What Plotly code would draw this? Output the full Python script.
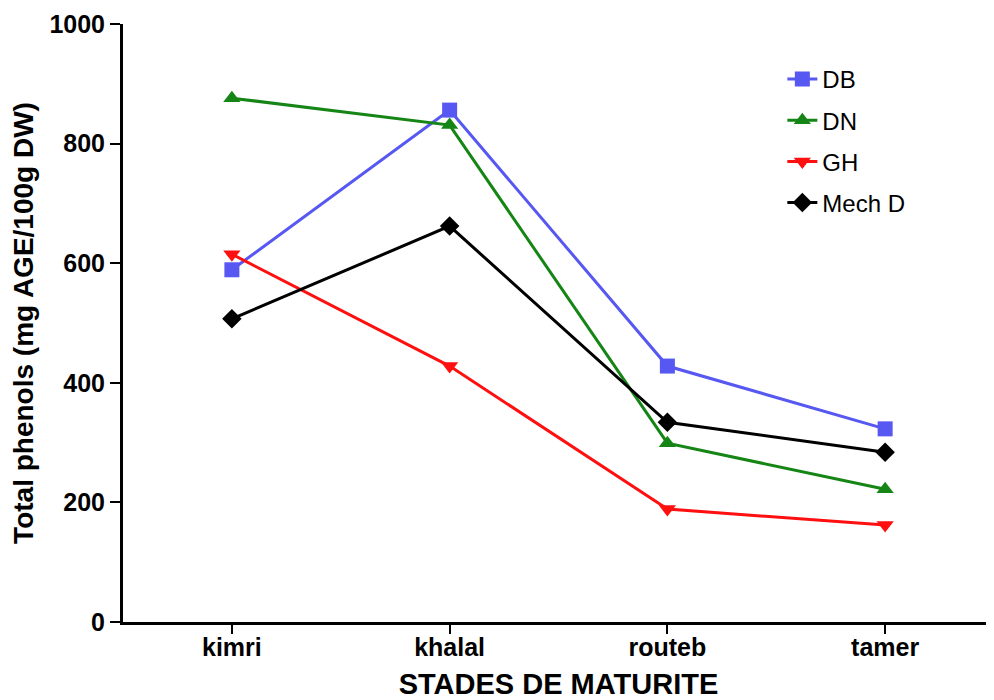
import plotly.graph_objects as go

stages = ["kimri", "khalal", "routeb", "tamer"]
db = [589, 856, 428, 323]
dn = [876, 831, 299, 222]
gh = [615, 428, 189, 162]
mech = [507, 662, 334, 284]
y_ticks = [0, 200, 400, 600, 800, 1000]

series = [
    ("DB", db, "#5757f2", "square"),
    ("DN", dn, "#158515", "triangle-up"),
    ("GH", gh, "#ff0f0f", "triangle-down"),
    ("Mech D", mech, "#000000", "diamond"),
]

fig = go.Figure()
for i, (name, vals, color, sym) in enumerate(series):
    fig.add_trace(go.Scatter(
        x=list(range(len(stages))), y=vals, name=name, mode="lines+markers",
        line=dict(color=color, width=3),
        marker=dict(symbol=sym, size=15, color=color),
        legendgroup=name,
    ))

fig.update_layout(
    width=986, height=692,
    margin=dict(l=115, r=0, t=16, b=78),
    plot_bgcolor="white", paper_bgcolor="white",
    font=dict(family="Liberation Sans, Arial, sans-serif", color="black"),
    showlegend=True,
    legend=dict(x=0.757, y=0.945, xanchor="left", yanchor="top",
                font=dict(size=24, color="black"), tracegroupgap=7,
                bgcolor="rgba(0,0,0,0)"),
    xaxis=dict(
        range=[-0.5, 3.5], tickmode="array", automargin=False,
        tickvals=list(range(len(stages))), ticktext=["<b>%s</b>" % s for s in stages],
        showline=True, linecolor="black", linewidth=3,
        ticks="outside", ticklen=9, tickwidth=2, tickcolor="black",
        showgrid=False, zeroline=False, ticklabelstandoff=-8,
        tickfont=dict(size=25),
        title=dict(text="<b>STADES DE MATURITE</b>", font=dict(size=29), standoff=14),
    ),
    yaxis=dict(
        range=[0, 1000], tickmode="array", tickvals=y_ticks, automargin=False,
        ticktext=["<b>%d</b>" % v for v in y_ticks],
        showline=True, linecolor="black", linewidth=3,
        ticks="outside", ticklen=10, tickwidth=2, tickcolor="black",
        showgrid=False, zeroline=False,
        tickfont=dict(size=25),
        title=dict(text="<b>Total phenols (mg AGE/100g DW)</b>", font=dict(size=28), standoff=8),
    ),
)

fig.write_html("out.html")
